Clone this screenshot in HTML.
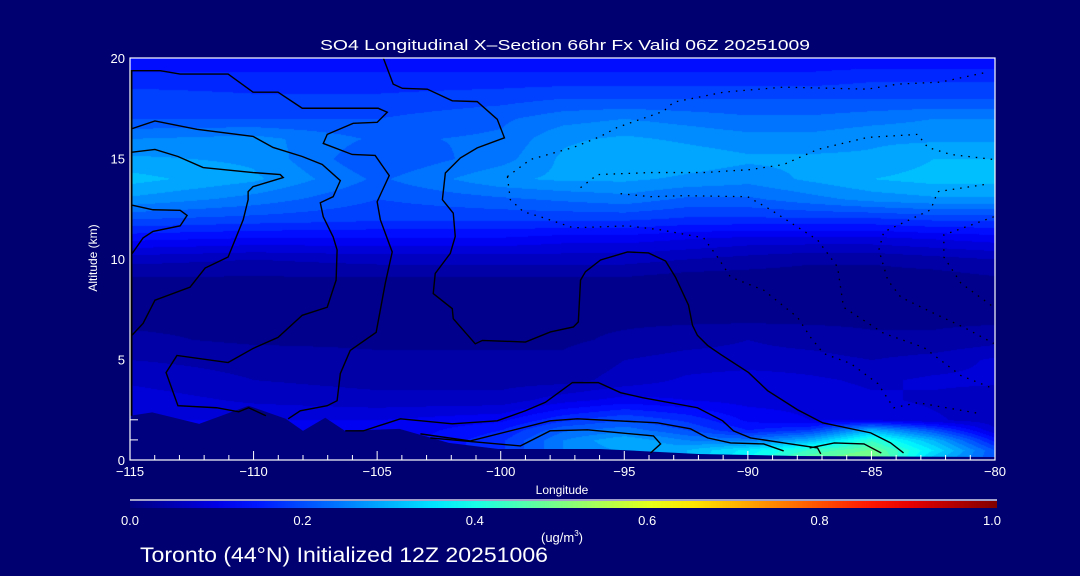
<!DOCTYPE html>
<html><head><meta charset="utf-8"><style>
html,body{margin:0;padding:0;background:#000070;width:1080px;height:576px;overflow:hidden}
#wrap{position:relative;width:1080px;height:576px;font-family:"Liberation Sans",sans-serif;color:#fff}
canvas{position:absolute;left:130px;top:58px}
svg{position:absolute;left:0;top:0}
text{font-family:"Liberation Sans",sans-serif;fill:#fff}
</style></head><body>
<div id="wrap">
<canvas id="heat" width="865" height="402"></canvas>
<svg id="svg" width="1080" height="576"></svg>
</div>
<script>
// ---- data ----
const lons = [-115,-110,-105,-100,-97.5,-95,-92.5,-90,-87.5,-85,-82.5,-80];
const alts = [0,0.5,1,1.5,2,3,4,5,6,7,8,9,10,11,12,13,14,15,16,17,18,19,20];
const so4 = [
 [.1,.1,.1,.15,.22,.25,.3,.38,.48,.52,.3,.2],
 [.1,.1,.1,.17,.25,.28,.3,.36,.43,.48,.35,.2],
 [.1,.1,.1,.17,.25,.3,.25,.24,.3,.42,.3,.14],
 [.1,.1,.1,.15,.22,.24,.2,.15,.18,.3,.2,.08],
 [.1,.1,.1,.12,.17,.2,.17,.12,.1,.1,.08,.06],
 [.09,.07,.06,.06,.09,.11,.1,.09,.09,.08,.07,.06],
 [.07,.05,.04,.04,.04,.06,.08,.09,.08,.07,.08,.08],
 [.05,.04,.03,.03,.03,.05,.06,.06,.06,.05,.06,.08],
 [.03,.02,.02,.02,.02,.03,.04,.05,.04,.03,.03,.04],
 [.02,.02,.02,.02,.02,.02,.02,.02,.02,.02,.02,.02],
 [.01,.02,.02,.02,.02,.02,.01,.01,.01,.01,.01,.01],
 [.02,.02,.02,.02,.02,.02,.01,.01,.01,.01,.01,.02],
 [.06,.05,.06,.06,.06,.06,.05,.04,.03,.03,.04,.05],
 [.13,.12,.12,.12,.11,.11,.1,.09,.09,.09,.1,.11],
 [.2,.19,.18,.18,.18,.18,.17,.17,.17,.17,.18,.18],
 [.27,.24,.2,.22,.23,.24,.22,.22,.24,.26,.27,.27],
 [.31,.28,.22,.27,.28,.28,.27,.26,.28,.3,.31,.31],
 [.28,.27,.2,.24,.28,.3,.29,.28,.28,.28,.3,.3],
 [.25,.26,.22,.23,.27,.28,.27,.26,.26,.27,.27,.27],
 [.2,.2,.2,.22,.24,.25,.24,.23,.23,.24,.25,.25],
 [.19,.18,.18,.19,.2,.2,.2,.2,.2,.2,.2,.2],
 [.16,.16,.16,.16,.16,.16,.16,.16,.16,.17,.17,.17],
 [.13,.13,.13,.13,.13,.13,.13,.13,.13,.13,.13,.13]
];
const terrainLon = [-115,-114.1,-112.2,-110.2,-108.7,-108,-107.1,-106.3,-104.1,-102.1,-100.1,-96,-92,-88,-80];
const terrainAlt = [2.2,2.37,1.8,2.7,2.05,1.45,2.1,1.45,1.55,0.85,0.55,0.55,0.3,0.2,0.15];
const xTicks = [-115,-110,-105,-100,-95,-90,-85,-80];
const yTicks = [0,5,10,15,20];
const cbTicks = [0,0.2,0.4,0.6,0.8,1.0];
const solidContours = [
 [[-115,19.37],[-113.78,19.37],[-112.97,19.2],[-111.03,19.2],[-110.02,18.3],[-109.01,18.3],[-108.03,17.5],[-104.96,17.5],[-104.59,17.3],[-105,16.8],[-105.97,16.75],[-107.02,16.2],[-107.18,15.75],[-106.01,15.2],[-105.08,15.15],[-104.51,14.15],[-105,12.85],[-104.87,11.95],[-104.39,10.35],[-104.67,8.8],[-105.04,6.35],[-106.09,5.45],[-106.49,4.3],[-106.62,2.95],[-107.02,2.7],[-108.11,2.45],[-108.6,2.05]],
 [[-115,16.45],[-113.99,16.87],[-112.29,16.45],[-110.02,16.1],[-109.21,15.55],[-108.03,15.1],[-107.22,14.7],[-106.49,13.9],[-106.78,13.1],[-107.3,12.8],[-107.18,12.1],[-106.78,11.1],[-106.62,10.45],[-106.66,8.95],[-107.02,7.6],[-108.03,7.2],[-109.01,6.1],[-110.02,5.55],[-111.03,4.85],[-113.1,5.2],[-113.54,4.35],[-113.06,2.7],[-111.5,2.6],[-110.6,2.4],[-110.2,2.6],[-109.5,2.2]],
 [[-115,15.3],[-113.99,15.45],[-113.06,15.1],[-112.04,14.55],[-110.02,14.3],[-108.92,14.2],[-108.8,14.05],[-110.02,13.6],[-110.22,13.35],[-110.22,12.95],[-110.42,11.95],[-111.03,10.1],[-111.96,9.55],[-112.57,8.6],[-113.99,7.95],[-114.47,6.8],[-115,6.1]],
 [[-115,12.7],[-114.07,12.45],[-112.97,12.42],[-112.69,12.17],[-112.97,11.65],[-114.07,11.37],[-114.47,11.05],[-115,10.12]],
 [[-104.75,20],[-104.35,18.7],[-103.98,18.49],[-102.97,18.45],[-101.96,17.87],[-100.95,17.83],[-100.14,16.95],[-99.85,16.03],[-100.95,15.53],[-101.63,15.03],[-102.24,14.28],[-102.36,12.95],[-101.92,12.28],[-101.84,11.12],[-102.04,10.28],[-102.65,9.28],[-102.73,8.28],[-101.96,7.53],[-101.92,7.03],[-101.03,5.78],[-100.74,5.95],[-99,5.87],[-97.99,6.37],[-97.06,6.62],[-96.86,6.87],[-96.77,8.95],[-96.57,9.37],[-95.96,9.95],[-94.87,10.35],[-94.02,10.3],[-93.33,9.9],[-92.93,9.1],[-92.4,7.7],[-92.24,6.7],[-92.04,6.2],[-91.63,5.7],[-91.1,5.25],[-89.97,4.35],[-89.2,3.45],[-87.99,2.5],[-86.97,1.85],[-85.03,1.35],[-84.22,0.85],[-83.7,0.35]],
 [[-106.29,1.45],[-105.56,1.45],[-104.06,2.05],[-101.96,1.8],[-100.14,1.95],[-99,2.45],[-98.19,2.87],[-97.1,3.85],[-96.05,3.85],[-95.15,3.35],[-94.26,3.1],[-92.04,2.6],[-91.02,1.95],[-90.58,1.45],[-89.89,1.1],[-88.55,0.85],[-87.18,0.6],[-87.05,0.3]],
 [[-103.25,1.3],[-101.23,0.95],[-98,1.95],[-96.9,2.05],[-93.66,1.85],[-92.32,1.55],[-91.63,1.1],[-90.7,0.85],[-89.36,0.8],[-88.55,0.45]],
 [[-102.85,1.1],[-99.2,0.7],[-98,1.45],[-96.49,1.5],[-93.82,1.2],[-93.53,0.8],[-93.94,0.35]],
 [[-87.5,0.6],[-86.5,0.85],[-85.3,0.8],[-84.6,0.35]]
];
const dottedContours = [
 [[-99.73,14.1],[-98.8,14.95],[-97.06,15.55],[-95.96,16.1],[-95.28,16.55],[-93.41,17.35],[-93.01,17.8],[-90.98,18.3],[-88.55,18.55],[-85.15,18.45],[-83.94,18.7],[-82.2,18.8],[-80.3,19.3]],
 [[-99.73,14.1],[-99.61,12.95],[-99.08,12.35],[-98.39,12.1],[-97.06,11.55],[-95.96,11.6],[-94.87,11.65],[-93.53,11.45],[-91.79,11.05],[-91.23,10.1],[-90.7,9.1],[-89.36,8.45],[-87.99,7.1],[-87.46,6.1],[-86.94,5.3],[-85.84,4.8],[-84.74,3.8],[-84.1,2.6],[-83.13,2.85],[-80.57,2.3]],
 [[-96.77,13.55],[-96.08,14.2],[-93.94,14.3],[-91.79,14.3],[-89.89,14.45],[-88.55,14.7],[-87.18,15.45],[-85.15,16.05],[-83.13,16.2],[-82.72,15.55],[-81.79,15.2],[-80.05,14.95]],
 [[-95.15,13.25],[-93.94,13.1],[-92.6,13.15],[-90.01,13.1],[-89.08,12.45],[-87.18,10.95],[-86.37,9.6],[-86.13,7.6],[-84.5,6.3],[-82.88,5.6],[-81.38,4.2],[-80.17,3.6]],
 [[-80.05,12.1],[-82.07,11.2],[-82.07,10.1],[-81.38,8.8],[-80.05,7.6]],
 [[-80.45,13.7],[-82.32,13.35],[-82.6,12.45],[-84.5,11.35],[-84.7,10.45],[-84.34,8.95],[-83.81,8.1],[-82.48,7.3],[-81.26,6.6],[-80.05,5.8]]
];
// ---- axes ----
const X0=130,X1=995,Y0=460,Y1=58;
const xs = l => X0+(l+115)/35*(X1-X0);
const ys = a => Y0-a/20*(Y0-Y1);
function jet(v){
  v=Math.max(0,Math.min(1,v));
  const st=[[0,0,0,128],[0.125,0,0,255],[0.375,0,255,255],[0.625,255,255,0],[0.875,255,0,0],[1,128,0,0]];
  for(let i=1;i<st.length;i++){ if(v<=st[i][0]){const a=st[i-1],b=st[i],t=(v-a[0])/(b[0]-a[0]);
    return [a[1]+(b[1]-a[1])*t,a[2]+(b[2]-a[2])*t,a[3]+(b[3]-a[3])*t];}}
  return [128,0,0];
}
function idx(arr,v){for(let i=0;i<arr.length-1;i++){if(v<=arr[i+1])return i;}return arr.length-2;}
// heatmap
const cv=document.getElementById('heat'),ctx=cv.getContext('2d');
const W=cv.width,H=cv.height,img=ctx.createImageData(W,H);
for(let py=0;py<H;py++){
  const a=(Y0-(Y1+py))/(Y0-Y1)*20; const j=idx(alts,a); const ty=Math.max(0,Math.min(1,(a-alts[j])/(alts[j+1]-alts[j])));
  for(let px=0;px<W;px++){
    const l=-115+px/(X1-X0)*35; const i=idx(lons,l); const tx=Math.max(0,Math.min(1,(l-lons[i])/(lons[i+1]-lons[i])));
    let v=(so4[j][i]*(1-tx)+so4[j][i+1]*tx)*(1-ty)+(so4[j+1][i]*(1-tx)+so4[j+1][i+1]*tx)*ty;
    v=Math.floor(v*40)/40+0.0125;
    const c=jet(v),k=(py*W+px)*4; img.data[k]=c[0];img.data[k+1]=c[1];img.data[k+2]=c[2];img.data[k+3]=255;
  }
}
ctx.putImageData(img,0,0);
// svg
const NS='http://www.w3.org/2000/svg',svg=document.getElementById('svg');
function mk(tag,at,parent){const e=document.createElementNS(NS,tag);for(const k in at)e.setAttribute(k,at[k]);(parent||svg).appendChild(e);return e;}
// terrain
let tp='M'+xs(-115)+','+ys(0);
terrainLon.forEach((l,i)=>{tp+=' L'+xs(l)+','+ys(terrainAlt[i]);});
tp+=' L'+xs(-80)+','+ys(0)+' Z';
const terr=mk('path',{d:tp,fill:'#00007e'});


solidContours.forEach((c,ci)=>{
  const p=mk('polyline',{points:c.map(q=>xs(q[0])+','+ys(q[1])).join(' '),fill:'none',stroke:'#000','stroke-width':1.4});
  
  
});
dottedContours.forEach(c=>{
  const p=mk('polyline',{points:c.map(q=>xs(q[0])+','+ys(q[1])).join(' '),fill:'none',stroke:'#000','stroke-width':1.3,'stroke-dasharray':'1.5 6'});
  
  
});
// left black edge
const le=mk('line',{x1:X0+1,y1:ys(19.4),x2:X0+1,y2:ys(2.2),stroke:'#000','stroke-width':3});


// frame
const fr=mk('rect',{x:X0,y:Y1,width:X1-X0,height:Y0-Y1,fill:'none',stroke:'#fff','stroke-width':1.2});


for(let l=-115;l<=-80;l++){
  const maj=l%5===0;
  const t=mk('line',{x1:xs(l),x2:xs(l),y1:Y0,y2:Y0-(maj?9:5),stroke:'#fff','stroke-width':1});
  
  
}
xTicks.forEach(l=>{
  const t=mk('text',{x:xs(l),y:476,'text-anchor':'middle','font-size':13});
  t.textContent=(l<0?'\u2212':'')+Math.abs(l);
  
  
});
[1,2].forEach(a=>{
  const t=mk('line',{x1:X0,x2:X0+8,y1:ys(a),y2:ys(a),stroke:'#fff','stroke-width':1});
  
  
});
yTicks.forEach(a=>{
  const t=mk('text',{x:125,y:ys(a)+5,'text-anchor':'end','font-size':13});
  t.textContent=a;
  
  
});
// colorbar
const defs=mk('defs',{});const gr=mk('linearGradient',{id:'cb',x1:0,x2:1,y1:0,y2:0},defs);
for(let s=0;s<=20;s++){const c=jet(s/20);mk('stop',{offset:s/20,'stop-color':'rgb('+c.map(Math.round).join(',')+')'},gr);}
const cb=mk('rect',{x:130,y:501,width:867,height:7,fill:'url(#cb)'});


const cbl=mk('line',{x1:130,x2:997,y1:500,y2:500,stroke:'#fff','stroke-width':1.2});


cbTicks.forEach(v=>{
  const t=mk('text',{x:130+v*862,y:525,'text-anchor':'middle','font-size':13});
  t.textContent=v.toFixed(1);
  
  
});
</script>
<svg width="1080" height="576" style="position:absolute;left:0;top:0;pointer-events:none">
<text x="320" y="50" font-size="15" textLength="490" lengthAdjust="spacingAndGlyphs">SO4 Longitudinal X&#8211;Section 66hr  Fx Valid 06Z 20251009</text>
<text x="562" y="494" text-anchor="middle" font-size="12">Longitude</text>
<text transform="translate(97,258) rotate(-90)" text-anchor="middle" font-size="12">Altitude (km)</text>
<text x="562" y="542" text-anchor="middle" font-size="13">(ug/m<tspan font-size="8" dy="-6">3</tspan><tspan dy="6">)</tspan></text>
<text x="140" y="562" font-size="21" textLength="408" lengthAdjust="spacingAndGlyphs">Toronto (44°N) Initialized 12Z 20251006</text>
</svg>
</body></html>
